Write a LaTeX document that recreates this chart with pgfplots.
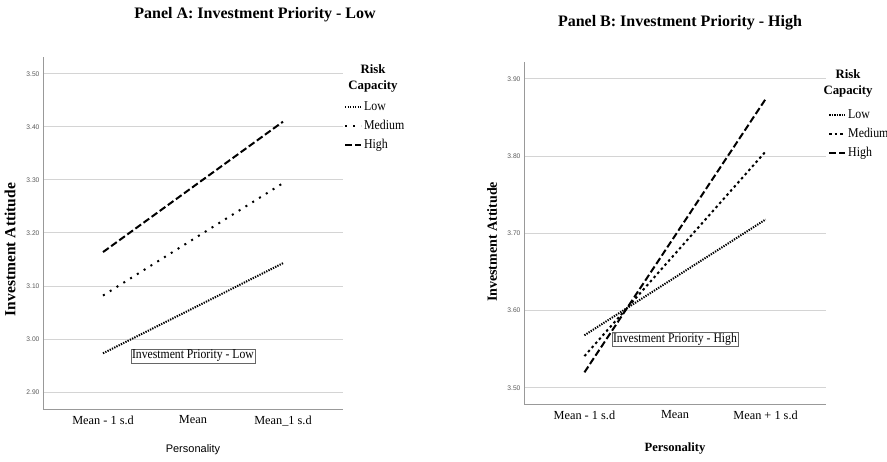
\documentclass[border=0pt]{standalone}
\usepackage{pgfplots}
\pgfplotsset{compat=1.18}
\usepackage{pgfplotstable}
\usepackage{fontspec}
\setmainfont{Liberation Serif}
\newfontfamily\arial{Liberation Sans}
\newfontfamily\condserif{Liberation Serif}[FakeStretch=0.88]

\pgfplotstableread{
x low med high
0 2.973 3.082 3.164
1 3.058 3.188 3.287
2 3.143 3.294 3.410
}\dataA
\pgfplotstableread{
x low med high
0 3.568 3.541 3.520
1 3.643 3.6735 3.697
2 3.718 3.806 3.874
}\dataB

\pgfplotsset{
 spss/.style={
   scale only axis,
   xmin=-0.667, xmax=2.667,
   xtick={0,1,2},
   axis x line*=bottom, axis y line*=left,
   axis line style={draw=black!40, line width=0.8pt, -},
   major tick length=0pt,
   ymajorgrids, grid style={draw=black!17, line width=1pt},
   /pgf/number format/assume math mode=true,
   yticklabel style={font=\arial\fontsize{6.7}{8}\selectfont, text=black!65, /pgf/number format/.cd, fixed, fixed zerofill, precision=2},
   xticklabel style={font=\fontsize{12.3}{14}\selectfont, yshift=-3pt},
   legend style={draw=none, fill=none, font=\condserif\fontsize{13.5}{15}\selectfont, inner sep=0pt, row sep=4pt, legend cell align=left, /tikz/every even column/.append style={column sep=0pt}},
   every axis plot/.append style={line width=2pt, black},
   clip=false,
 },
 lowS/.style={dash pattern=on 1.3pt off 1.2pt},
 highS/.style={dash pattern=on 7pt off 3pt},
}

\begin{document}
\begin{tikzpicture}[x=1pt,y=1pt]
\path[use as bounding box] (0,0) rectangle (887,461);

\node[font=\bfseries\fontsize{16}{19}\selectfont] at (255,446) {Panel A: Investment Priority - Low};
\node[font=\bfseries\fontsize{16}{19}\selectfont] at (680,438) {Panel B: Investment Priority - High};

\begin{axis}[spss,
  at={(43pt,52pt)}, anchor=south west,
  width=300pt, height=352pt,
  ymin=2.868, ymax=3.532,
  ytick={2.9,3.0,3.1,3.2,3.3,3.4,3.5},
  xticklabels={Mean - 1 s.d, Mean, Mean\_1 s.d},
  xlabel={Personality},
  xlabel style={font=\arial\fontsize{11}{13}\selectfont, at={(axis description cs:0.5,-0.1165)}, anchor=center},
  ylabel={Investment Attitude},
  ylabel style={font=\bfseries\fontsize{15.5}{18}\selectfont, at={(axis description cs:-0.11,0.453)}, anchor=center},
  legend style={at={(axis description cs:1.003,0.878)}, anchor=north west},
  legend image code/.code={\draw[#1] (0pt,0pt) -- (16pt,0pt);},
]
\addplot[lowS] table[x=x,y=low] {\dataA};
\addlegendentry{Low}
\addplot[dash pattern=on 2pt off 6pt] table[x=x,y=med] {\dataA};
\addlegendentry{Medium}
\addplot[highS] table[x=x,y=high] {\dataA};
\addlegendentry{High}
\node[draw=black!60, fill=white, inner sep=1pt, line width=0.6pt, font=\condserif\fontsize{13.3}{15}\selectfont] at (axis cs:1,2.968) {Investment Priority - Low};
\node[font=\bfseries\fontsize{12.8}{16}\selectfont, align=center] at (axis description cs:1.1,0.94) {Risk\\Capacity};
\end{axis}

\begin{axis}[spss,
  at={(524pt,57pt)}, anchor=south west,
  width=302pt, height=342pt,
  ymin=3.479, ymax=3.922,
  ytick={3.5,3.6,3.7,3.8,3.9},
  xticklabels={Mean - 1 s.d, Mean, Mean + 1 s.d},
  xlabel={Personality},
  xlabel style={font=\bfseries\fontsize{12.6}{15}\selectfont, at={(axis description cs:0.5,-0.1287)}, anchor=center},
  ylabel={Investment Attitude},
  ylabel style={font=\bfseries\fontsize{14}{17}\selectfont, at={(axis description cs:-0.106,0.474)}, anchor=center},
  legend style={at={(axis description cs:1.0066,0.866)}, anchor=north west},
  legend image code/.code={\draw[#1] (0pt,0pt) -- (16pt,0pt);},
]
\addplot[lowS] table[x=x,y=low] {\dataB};
\addlegendentry{Low}
\addplot[dash pattern=on 2.5pt off 3pt] table[x=x,y=med] {\dataB};
\addlegendentry{Medium}
\addplot[highS] table[x=x,y=high] {\dataB};
\addlegendentry{High}
\node[draw=black!60, fill=white, inner sep=1pt, line width=0.6pt, font=\condserif\fontsize{13.3}{15}\selectfont] at (axis cs:1,3.563) {Investment Priority - High};
\node[font=\bfseries\fontsize{12.8}{16}\selectfont, align=center] at (axis description cs:1.073,0.936) {Risk\\Capacity};
\end{axis}
\end{tikzpicture}
\end{document}
